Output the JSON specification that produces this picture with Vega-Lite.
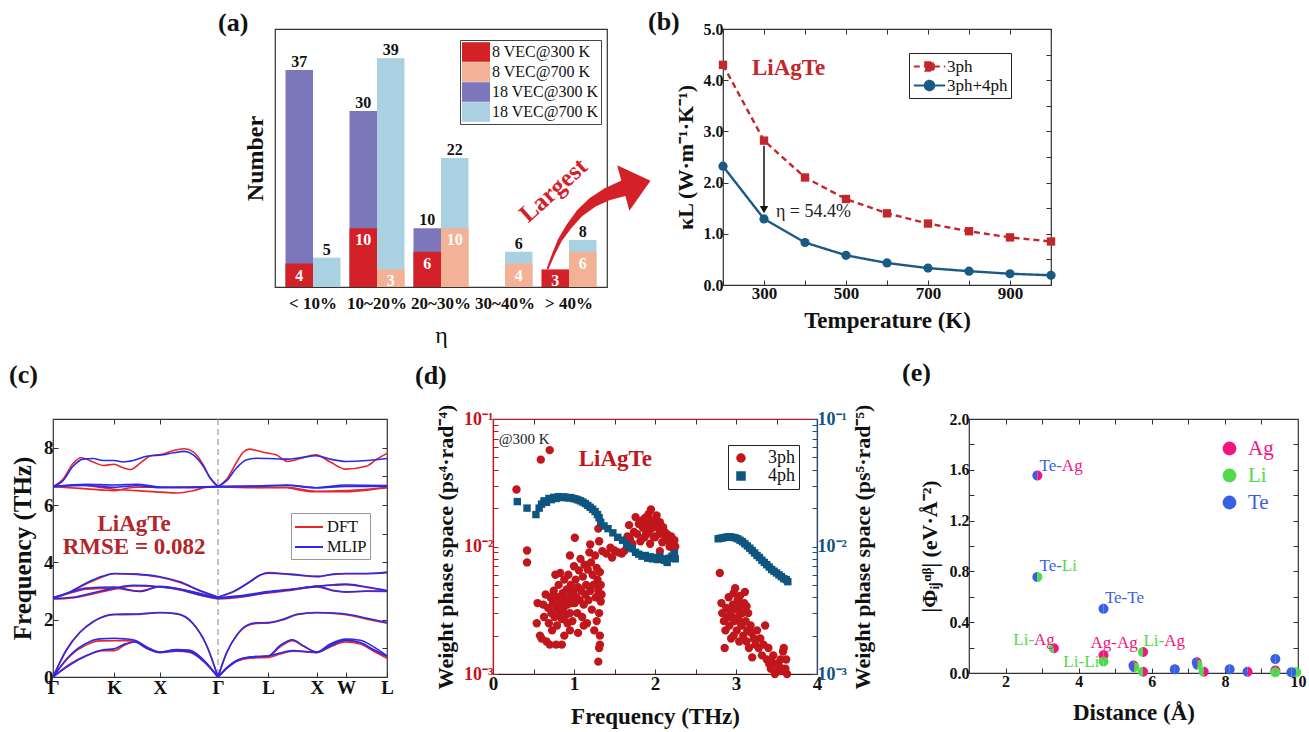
{
"$schema":"https://vega.github.io/schema/vega-lite/v6.json",
"background":"white",
"padding":{"left":8,"top":8,"right":5,"bottom":5},
"spacing":11,
"resolve":{"scale":{"color":"independent","shape":"independent","strokeDash":"independent","size":"independent"}},
"config":{
 "font":"Liberation Serif",
 "view":{"stroke":"#333","strokeWidth":1.2},
 "scale":{"nice":false},
 "axis":{"domain":false,"grid":false,"labelFont":"Liberation Serif","titleFont":"Liberation Serif","labelFontWeight":"bold","titleFontWeight":"bold","labelColor":"#111","titleColor":"#111","tickColor":"#333","tickSize":-5,"labelFontSize":17,"titleFontSize":23,"labelPadding":5,"labelFlush":false,"labelOverlap":false},
 "legend":{"labelFont":"Liberation Serif","labelColor":"#111"},
 "title":{"font":"Liberation Serif","fontSize":26,"fontWeight":"bold","anchor":"start","frame":"group","color":"#111","baseline":"alphabetic","offset":0},
 "text":{"font":"Liberation Serif"}
},
"vconcat":[
{"hconcat":[
 {"width":169,"height":20,"data":{"values":[{"z":1}]},"mark":{"type":"point","opacity":0},"encoding":{},"view":{"stroke":null}},
 {"width":332,"height":258,
  "title":{"text":"(a)","dx":-57,"dy":11},
  "layer":[
   {"data":{"values":[
    {"eta":"< 10%","T":"300 K","vec":"18","series":"18 VEC@300 K","n":37},
    {"eta":"< 10%","T":"700 K","vec":"18","series":"18 VEC@700 K","n":5},
    {"eta":"10~20%","T":"300 K","vec":"18","series":"18 VEC@300 K","n":30},
    {"eta":"10~20%","T":"700 K","vec":"18","series":"18 VEC@700 K","n":39},
    {"eta":"20~30%","T":"300 K","vec":"18","series":"18 VEC@300 K","n":10},
    {"eta":"20~30%","T":"700 K","vec":"18","series":"18 VEC@700 K","n":22},
    {"eta":"30~40%","T":"300 K","vec":"18","series":"18 VEC@300 K","n":0},
    {"eta":"30~40%","T":"700 K","vec":"18","series":"18 VEC@700 K","n":6},
    {"eta":"> 40%","T":"300 K","vec":"18","series":"18 VEC@300 K","n":0},
    {"eta":"> 40%","T":"700 K","vec":"18","series":"18 VEC@700 K","n":8},
    {"eta":"< 10%","T":"300 K","vec":"8","series":"8 VEC@300 K","n":4},
    {"eta":"< 10%","T":"700 K","vec":"8","series":"8 VEC@700 K","n":0},
    {"eta":"10~20%","T":"300 K","vec":"8","series":"8 VEC@300 K","n":10},
    {"eta":"10~20%","T":"700 K","vec":"8","series":"8 VEC@700 K","n":3},
    {"eta":"20~30%","T":"300 K","vec":"8","series":"8 VEC@300 K","n":6},
    {"eta":"20~30%","T":"700 K","vec":"8","series":"8 VEC@700 K","n":10},
    {"eta":"30~40%","T":"300 K","vec":"8","series":"8 VEC@300 K","n":0},
    {"eta":"30~40%","T":"700 K","vec":"8","series":"8 VEC@700 K","n":4},
    {"eta":"> 40%","T":"300 K","vec":"8","series":"8 VEC@300 K","n":3},
    {"eta":"> 40%","T":"700 K","vec":"8","series":"8 VEC@700 K","n":6}
   ]},
   "encoding":{
    "x":{"field":"eta","type":"nominal","sort":["< 10%","10~20%","20~30%","30~40%","> 40%"],"scale":{"paddingInner":0.14,"paddingOuter":0.164},"axis":{"title":"η","labelAngle":0,"ticks":false,"labelPadding":8,"titlePadding":12,"titleFontWeight":"normal","titleFontSize":24,"labelFontSize":17}},
    "xOffset":{"field":"T","type":"nominal","sort":["300 K","700 K"]},
    "y":{"field":"n","type":"quantitative","scale":{"domain":[0,44]},"axis":{"title":"Number","labels":false,"ticks":false,"titlePadding":8,"titleFontSize":24}}
   },
   "layer":[
    {"mark":{"type":"bar","opacity":1},
     "encoding":{"y":{"field":"n","type":"quantitative","stack":null},
      "color":{"field":"series","type":"nominal","scale":{"domain":["8 VEC@300 K","8 VEC@700 K","18 VEC@300 K","18 VEC@700 K"],"range":["#d42027","#f3b196","#7b77ba","#a9d1e1"]},
       "legend":{"title":null,"orient":"none","legendX":185,"legendY":11,"strokeColor":"#444","padding":2,"symbolOffset":4,"symbolType":"M-1.4,-0.98H1.4V0.98H-1.4Z","symbolSize":400,"symbolStrokeWidth":0,"symbolOpacity":1,"labelFontSize":16,"labelOffset":6,"rowPadding":0}}}},
    {"transform":[{"filter":"datum.vec == '18' && datum.n > 0"}],
     "mark":{"type":"text","dy":-3,"baseline":"alphabetic","fontWeight":"bold","fontSize":16,"color":"#111"},
     "encoding":{"text":{"field":"n","type":"quantitative"}}},
    {"transform":[{"filter":"datum.vec == '8' && datum.n > 0"}],
     "mark":{"type":"text","dy":4,"baseline":"top","fontWeight":"bold","fontSize":16,"color":"white"},
     "encoding":{"text":{"field":"n","type":"quantitative"}}}
   ]},
   {"data":{"values":[{"gx":3.61,"n":3.2},{"gx":3.69,"n":5.5},{"gx":3.79,"n":8.0},{"gx":3.93,"n":10.4},{"gx":4.09,"n":12.6},{"gx":4.29,"n":14.5},{"gx":4.5,"n":15.8},{"gx":4.76,"n":16.9}]},
    "mark":{"type":"trail","color":"#d42027"},
    "encoding":{"x":{"field":"gx","type":"quantitative","scale":{"domain":[-0.5,4.5]},"axis":null},
     "y":{"field":"n","type":"quantitative","scale":{"domain":[0,44]},"axis":{"title":"Number","labels":false,"ticks":false,"titlePadding":8,"titleFontSize":24}},
     "size":{"field":"gx","type":"quantitative","scale":{"domain":[3.61,4.76],"range":[2,16]},"legend":null}}},
   {"data":{"values":[{"gx":4.95,"n":17.5}]},
    "mark":{"type":"point","shape":"M0.6,0L-0.6,-1L-0.6,1Z","size":2209,"angle":345,"filled":true,"opacity":1,"color":"#d42027"},
    "encoding":{"x":{"field":"gx","type":"quantitative","scale":{"domain":[-0.5,4.5]},"axis":null},
     "y":{"field":"n","type":"quantitative","scale":{"domain":[0,44]},"axis":{"title":"Number","labels":false,"ticks":false,"titlePadding":8,"titleFontSize":24}}}},
   {"data":{"values":[{"gx":3.69,"n":16.5,"label":"Largest"}]},
    "mark":{"type":"text","angle":318,"fontSize":25,"fontWeight":"bold","color":"#d42027"},
    "encoding":{"x":{"field":"gx","type":"quantitative","scale":{"domain":[-0.5,4.5]},"axis":null},
     "y":{"field":"n","type":"quantitative","scale":{"domain":[0,44]},"axis":{"title":"Number","labels":false,"ticks":false,"titlePadding":8,"titleFontSize":24}},
     "text":{"field":"label"}}}
  ],
  "resolve":{"scale":{"x":"independent"}}
 },
 {"width":328,"height":256,
  "title":{"text":"(b)","dx":-75,"dy":18},
  "layer":[
  {"layer":[
   {"data":{"values":[
     {"T":200,"k":4.3,"s":"3ph"},{"T":300,"k":2.82,"s":"3ph"},{"T":400,"k":2.1,"s":"3ph"},{"T":500,"k":1.68,"s":"3ph"},{"T":600,"k":1.4,"s":"3ph"},{"T":700,"k":1.2,"s":"3ph"},{"T":800,"k":1.05,"s":"3ph"},{"T":900,"k":0.93,"s":"3ph"},{"T":1000,"k":0.85,"s":"3ph"},
     {"T":200,"k":2.32,"s":"3ph+4ph"},{"T":300,"k":1.29,"s":"3ph+4ph"},{"T":400,"k":0.83,"s":"3ph+4ph"},{"T":500,"k":0.58,"s":"3ph+4ph"},{"T":600,"k":0.43,"s":"3ph+4ph"},{"T":700,"k":0.33,"s":"3ph+4ph"},{"T":800,"k":0.27,"s":"3ph+4ph"},{"T":900,"k":0.22,"s":"3ph+4ph"},{"T":1000,"k":0.19,"s":"3ph+4ph"}
    ]},
    "encoding":{
     "x":{"field":"T","type":"quantitative","scale":{"domain":[200,1000]},"axis":{"title":"Temperature (K)","values":[200,300,400,500,600,700,800,900,1000],"labelExpr":"(datum.value == 300 || datum.value == 500 || datum.value == 700 || datum.value == 900) ? datum.label : ''","labelFontSize":17,"titleFontSize":23,"titlePadding":8}},
     "y":{"field":"k","type":"quantitative","scale":{"domain":[0,5]},"axis":{"title":"κL (W·m⁻¹·K⁻¹)","values":[0,0.5,1,1.5,2,2.5,3,3.5,4,4.5,5],"labelExpr":"datum.value % 1 == 0 ? format(datum.value, '.1f') : ''","labelFontSize":16,"titleFontSize":22,"titlePadding":6}}
    },
    "layer":[
     {"mark":{"type":"line","strokeWidth":2.4},
      "encoding":{
       "color":{"field":"s","type":"nominal","scale":{"domain":["3ph","3ph+4ph"],"range":["#c1272d","#1b5a85"]},
        "legend":{"title":null,"orient":"none","legendX":186,"legendY":24,"strokeColor":"#222","padding":3,"symbolOffset":7,"symbolSize":361,"symbolStrokeWidth":2,"labelFontSize":17,"labelOffset":7,"rowPadding":0,
         "encode":{"symbols":{"update":{
          "shape":{"signal":"datum.value === '3ph' ? 'M-1.65,0H1.65M-0.45,-0.45H0.45V0.45H-0.45Z' : 'M-1.65,0H1.65M0.5,0A0.5,0.5,0,1,1,-0.5,0A0.5,0.5,0,1,1,0.5,0Z'"},
          "fill":{"signal":"datum.value === '3ph' ? '#c1272d' : '#1b5a85'"},
          "stroke":{"signal":"datum.value === '3ph' ? '#c1272d' : '#1b5a85'"},
          "strokeDash":{"signal":"datum.value === '3ph' ? [4,3] : [1,0]"}}}}}},
       "strokeDash":{"field":"s","type":"nominal","scale":{"domain":["3ph","3ph+4ph"],"range":[[6,4],[1,0]]},"legend":null}}},
     {"transform":[{"filter":"datum.s == '3ph'"}],
      "mark":{"type":"point","filled":true,"opacity":1,"size":70,"shape":"square","color":"#c1272d"}},
     {"transform":[{"filter":"datum.s == '3ph+4ph'"}],
      "mark":{"type":"point","filled":true,"opacity":1,"size":85,"shape":"circle","color":"#1b5a85"}}
    ]},
   {"data":{"values":[{"T":300,"k":2.72,"k2":1.5}]},
    "mark":{"type":"rule","color":"#111","strokeWidth":1.5},
    "encoding":{"x":{"field":"T","type":"quantitative"},"y":{"field":"k","type":"quantitative"},"y2":{"field":"k2"}}},
   {"data":{"values":[{"T":300,"k":1.47}]},
    "mark":{"type":"point","shape":"triangle-down","filled":true,"color":"#111","size":70,"opacity":1},
    "encoding":{"x":{"field":"T","type":"quantitative"},"y":{"field":"k","type":"quantitative"}}},
   {"data":{"values":[{"T":329,"k":1.43,"label":"η = 54.4%"}]},
    "mark":{"type":"text","align":"left","baseline":"middle","fontSize":18,"color":"#222"},
    "encoding":{"x":{"field":"T","type":"quantitative"},"y":{"field":"k","type":"quantitative"},"text":{"field":"label"}}},
   {"data":{"values":[{"T":360,"k":4.24,"label":"LiAgTe"}]},
    "mark":{"type":"text","baseline":"middle","fontSize":23,"fontWeight":"bold","color":"#c1272d"},
    "encoding":{"x":{"field":"T","type":"quantitative"},"y":{"field":"k","type":"quantitative"},"text":{"field":"label"}}}
  ]},
  {"data":{"values":[{"T":200,"k":0}]},
   "mark":{"type":"point","opacity":0},
   "encoding":{"x":{"field":"T","type":"quantitative","axis":{"orient":"top","labels":false,"title":null,"values":[200,300,400,500,600,700,800,900,1000]}},
    "y":{"field":"k","type":"quantitative","axis":{"orient":"right","labels":false,"title":null,"values":[0,0.5,1,1.5,2,2.5,3,3.5,4,4.5,5]}}}}
  ],
  "resolve":{"axis":{"x":"independent","y":"independent"}}
 }
],"spacing":-5,"resolve":{"scale":{"color":"independent","shape":"independent","strokeDash":"independent","size":"independent"}}},
{"hconcat":[
 {"width":334,"height":258,
  "title":{"text":"(c)","dx":-44,"dy":-27},
  "layer":[
  {"layer":[
   {"data":{"values":[{"k":0.494}]},
    "mark":{"type":"rule","color":"#888","strokeDash":[6,4],"strokeWidth":1},
    "encoding":{"x":{"field":"k","type":"quantitative","scale":{"domain":[0,1]}}}},
   {"data":{"values":[
{"m":"DFT","b":"1L","k":0,"f":0},{"m":"DFT","b":"1L","k":0.05,"f":0.45},{"m":"DFT","b":"1L","k":0.1,"f":0.75},{"m":"DFT","b":"1L","k":0.15,"f":0.92},{"m":"DFT","b":"1L","k":0.183,"f":0.92},{"m":"DFT","b":"1L","k":0.215,"f":1.12},{"m":"DFT","b":"1L","k":0.245,"f":1.22},{"m":"DFT","b":"1L","k":0.28,"f":1.0},{"m":"DFT","b":"1L","k":0.32,"f":0.85},{"m":"DFT","b":"1L","k":0.37,"f":0.9},{"m":"DFT","b":"1L","k":0.41,"f":0.86},{"m":"DFT","b":"1L","k":0.45,"f":0.55},{"m":"DFT","b":"1L","k":0.494,"f":0},
{"m":"DFT","b":"1R","k":0.494,"f":0},{"m":"DFT","b":"1R","k":0.52,"f":0.3},{"m":"DFT","b":"1R","k":0.55,"f":0.55},{"m":"DFT","b":"1R","k":0.59,"f":0.66},{"m":"DFT","b":"1R","k":0.644,"f":0.68},{"m":"DFT","b":"1R","k":0.68,"f":0.8},{"m":"DFT","b":"1R","k":0.717,"f":0.9},{"m":"DFT","b":"1R","k":0.75,"f":0.88},{"m":"DFT","b":"1R","k":0.79,"f":0.85},{"m":"DFT","b":"1R","k":0.83,"f":1.05},{"m":"DFT","b":"1R","k":0.877,"f":1.22},{"m":"DFT","b":"1R","k":0.92,"f":1.15},{"m":"DFT","b":"1R","k":0.96,"f":0.9},{"m":"DFT","b":"1R","k":1.0,"f":0.65},
{"m":"DFT","b":"2L","k":0,"f":0},{"m":"DFT","b":"2L","k":0.05,"f":0.72},{"m":"DFT","b":"2L","k":0.1,"f":1.12},{"m":"DFT","b":"2L","k":0.14,"f":1.26},{"m":"DFT","b":"2L","k":0.183,"f":1.27},{"m":"DFT","b":"2L","k":0.215,"f":1.27},{"m":"DFT","b":"2L","k":0.245,"f":1.25},{"m":"DFT","b":"2L","k":0.28,"f":1.05},{"m":"DFT","b":"2L","k":0.32,"f":0.87},{"m":"DFT","b":"2L","k":0.37,"f":0.95},{"m":"DFT","b":"2L","k":0.41,"f":0.92},{"m":"DFT","b":"2L","k":0.45,"f":0.6},{"m":"DFT","b":"2L","k":0.494,"f":0},
{"m":"DFT","b":"2R","k":0.494,"f":0},{"m":"DFT","b":"2R","k":0.52,"f":0.32},{"m":"DFT","b":"2R","k":0.55,"f":0.57},{"m":"DFT","b":"2R","k":0.59,"f":0.68},{"m":"DFT","b":"2R","k":0.644,"f":0.72},{"m":"DFT","b":"2R","k":0.68,"f":1.05},{"m":"DFT","b":"2R","k":0.717,"f":1.27},{"m":"DFT","b":"2R","k":0.75,"f":1.08},{"m":"DFT","b":"2R","k":0.79,"f":0.87},{"m":"DFT","b":"2R","k":0.83,"f":1.12},{"m":"DFT","b":"2R","k":0.877,"f":1.26},{"m":"DFT","b":"2R","k":0.92,"f":1.18},{"m":"DFT","b":"2R","k":0.96,"f":0.95},{"m":"DFT","b":"2R","k":1.0,"f":0.7},
{"m":"DFT","b":"3L","k":0,"f":0},{"m":"DFT","b":"3L","k":0.04,"f":0.95},{"m":"DFT","b":"3L","k":0.08,"f":1.55},{"m":"DFT","b":"3L","k":0.12,"f":1.92},{"m":"DFT","b":"3L","k":0.183,"f":2.17},{"m":"DFT","b":"3L","k":0.25,"f":2.18},{"m":"DFT","b":"3L","k":0.32,"f":2.24},{"m":"DFT","b":"3L","k":0.37,"f":2.2},{"m":"DFT","b":"3L","k":0.42,"f":1.85},{"m":"DFT","b":"3L","k":0.46,"f":1.1},{"m":"DFT","b":"3L","k":0.494,"f":0},
{"m":"DFT","b":"3R","k":0.494,"f":0},{"m":"DFT","b":"3R","k":0.52,"f":0.85},{"m":"DFT","b":"3R","k":0.55,"f":1.45},{"m":"DFT","b":"3R","k":0.58,"f":1.78},{"m":"DFT","b":"3R","k":0.61,"f":1.87},{"m":"DFT","b":"3R","k":0.644,"f":1.88},{"m":"DFT","b":"3R","k":0.69,"f":2.0},{"m":"DFT","b":"3R","k":0.73,"f":2.17},{"m":"DFT","b":"3R","k":0.79,"f":2.24},{"m":"DFT","b":"3R","k":0.84,"f":2.22},{"m":"DFT","b":"3R","k":0.877,"f":2.17},{"m":"DFT","b":"3R","k":0.94,"f":2.02},{"m":"DFT","b":"3R","k":1.0,"f":1.88},
{"m":"DFT","b":"4L","k":0,"f":2.72},{"m":"DFT","b":"4L","k":0.06,"f":2.76},{"m":"DFT","b":"4L","k":0.12,"f":2.9},{"m":"DFT","b":"4L","k":0.183,"f":3.06},{"m":"DFT","b":"4L","k":0.24,"f":3.18},{"m":"DFT","b":"4L","k":0.32,"f":3.14},{"m":"DFT","b":"4L","k":0.38,"f":3.04},{"m":"DFT","b":"4L","k":0.44,"f":2.85},{"m":"DFT","b":"4L","k":0.494,"f":2.72},
{"m":"DFT","b":"4R","k":0.494,"f":2.72},{"m":"DFT","b":"4R","k":0.55,"f":2.77},{"m":"DFT","b":"4R","k":0.644,"f":2.93},{"m":"DFT","b":"4R","k":0.717,"f":3.03},{"m":"DFT","b":"4R","k":0.79,"f":3.14},{"m":"DFT","b":"4R","k":0.84,"f":3.0},{"m":"DFT","b":"4R","k":0.877,"f":2.96},{"m":"DFT","b":"4R","k":0.94,"f":2.99},{"m":"DFT","b":"4R","k":1.0,"f":2.98},
{"m":"DFT","b":"5L","k":0,"f":2.75},{"m":"DFT","b":"5L","k":0.05,"f":2.92},{"m":"DFT","b":"5L","k":0.1,"f":3.06},{"m":"DFT","b":"5L","k":0.183,"f":3.1},{"m":"DFT","b":"5L","k":0.22,"f":3.04},{"m":"DFT","b":"5L","k":0.26,"f":3.0},{"m":"DFT","b":"5L","k":0.32,"f":3.15},{"m":"DFT","b":"5L","k":0.38,"f":3.06},{"m":"DFT","b":"5L","k":0.44,"f":2.9},{"m":"DFT","b":"5L","k":0.494,"f":2.75},
{"m":"DFT","b":"5R","k":0.494,"f":2.75},{"m":"DFT","b":"5R","k":0.55,"f":2.8},{"m":"DFT","b":"5R","k":0.644,"f":2.96},{"m":"DFT","b":"5R","k":0.717,"f":3.05},{"m":"DFT","b":"5R","k":0.79,"f":3.16},{"m":"DFT","b":"5R","k":0.84,"f":3.2},{"m":"DFT","b":"5R","k":0.877,"f":3.22},{"m":"DFT","b":"5R","k":0.94,"f":3.12},{"m":"DFT","b":"5R","k":1.0,"f":3.0},
{"m":"DFT","b":"6L","k":0,"f":2.75},{"m":"DFT","b":"6L","k":0.05,"f":2.95},{"m":"DFT","b":"6L","k":0.1,"f":3.25},{"m":"DFT","b":"6L","k":0.15,"f":3.5},{"m":"DFT","b":"6L","k":0.183,"f":3.6},{"m":"DFT","b":"6L","k":0.25,"f":3.58},{"m":"DFT","b":"6L","k":0.32,"f":3.48},{"m":"DFT","b":"6L","k":0.38,"f":3.3},{"m":"DFT","b":"6L","k":0.44,"f":3.0},{"m":"DFT","b":"6L","k":0.494,"f":2.78},
{"m":"DFT","b":"6R","k":0.494,"f":2.78},{"m":"DFT","b":"6R","k":0.54,"f":2.97},{"m":"DFT","b":"6R","k":0.59,"f":3.32},{"m":"DFT","b":"6R","k":0.62,"f":3.55},{"m":"DFT","b":"6R","k":0.644,"f":3.64},{"m":"DFT","b":"6R","k":0.717,"f":3.57},{"m":"DFT","b":"6R","k":0.79,"f":3.5},{"m":"DFT","b":"6R","k":0.84,"f":3.58},{"m":"DFT","b":"6R","k":0.877,"f":3.6},{"m":"DFT","b":"6R","k":0.94,"f":3.6},{"m":"DFT","b":"6R","k":1.0,"f":3.66},
{"m":"DFT","b":"7L","k":0,"f":6.64},{"m":"DFT","b":"7L","k":0.08,"f":6.7},{"m":"DFT","b":"7L","k":0.15,"f":6.6},{"m":"DFT","b":"7L","k":0.183,"f":6.55},{"m":"DFT","b":"7L","k":0.25,"f":6.5},{"m":"DFT","b":"7L","k":0.32,"f":6.45},{"m":"DFT","b":"7L","k":0.373,"f":6.42},{"m":"DFT","b":"7L","k":0.42,"f":6.5},{"m":"DFT","b":"7L","k":0.46,"f":6.62},{"m":"DFT","b":"7L","k":0.494,"f":6.64},
{"m":"DFT","b":"7R","k":0.494,"f":6.64},{"m":"DFT","b":"7R","k":0.6,"f":6.6},{"m":"DFT","b":"7R","k":0.7,"f":6.62},{"m":"DFT","b":"7R","k":0.787,"f":6.48},{"m":"DFT","b":"7R","k":0.877,"f":6.5},{"m":"DFT","b":"7R","k":0.94,"f":6.55},{"m":"DFT","b":"7R","k":1.0,"f":6.6},
{"m":"DFT","b":"8L","k":0,"f":6.64},{"m":"DFT","b":"8L","k":0.08,"f":6.58},{"m":"DFT","b":"8L","k":0.15,"f":6.52},{"m":"DFT","b":"8L","k":0.183,"f":6.5},{"m":"DFT","b":"8L","k":0.22,"f":6.58},{"m":"DFT","b":"8L","k":0.25,"f":6.62},{"m":"DFT","b":"8L","k":0.32,"f":6.62},{"m":"DFT","b":"8L","k":0.4,"f":6.63},{"m":"DFT","b":"8L","k":0.494,"f":6.64},
{"m":"DFT","b":"8R","k":0.494,"f":6.64},{"m":"DFT","b":"8R","k":0.6,"f":6.62},{"m":"DFT","b":"8R","k":0.7,"f":6.6},{"m":"DFT","b":"8R","k":0.75,"f":6.5},{"m":"DFT","b":"8R","k":0.787,"f":6.46},{"m":"DFT","b":"8R","k":0.877,"f":6.46},{"m":"DFT","b":"8R","k":0.94,"f":6.52},{"m":"DFT","b":"8R","k":1.0,"f":6.62},
{"m":"DFT","b":"9L","k":0,"f":6.64},{"m":"DFT","b":"9L","k":0.03,"f":6.9},{"m":"DFT","b":"9L","k":0.06,"f":7.45},{"m":"DFT","b":"9L","k":0.084,"f":7.65},{"m":"DFT","b":"9L","k":0.12,"f":7.5},{"m":"DFT","b":"9L","k":0.15,"f":7.38},{"m":"DFT","b":"9L","k":0.183,"f":7.42},{"m":"DFT","b":"9L","k":0.21,"f":7.3},{"m":"DFT","b":"9L","k":0.233,"f":7.24},{"m":"DFT","b":"9L","k":0.26,"f":7.45},{"m":"DFT","b":"9L","k":0.293,"f":7.72},{"m":"DFT","b":"9L","k":0.33,"f":7.78},{"m":"DFT","b":"9L","k":0.36,"f":7.9},{"m":"DFT","b":"9L","k":0.393,"f":7.96},{"m":"DFT","b":"9L","k":0.42,"f":7.85},{"m":"DFT","b":"9L","k":0.45,"f":7.4},{"m":"DFT","b":"9L","k":0.47,"f":6.95},{"m":"DFT","b":"9L","k":0.494,"f":6.64},
{"m":"DFT","b":"9R","k":0.494,"f":6.64},{"m":"DFT","b":"9R","k":0.52,"f":6.9},{"m":"DFT","b":"9R","k":0.55,"f":7.5},{"m":"DFT","b":"9R","k":0.57,"f":7.85},{"m":"DFT","b":"9R","k":0.588,"f":7.95},{"m":"DFT","b":"9R","k":0.61,"f":7.9},{"m":"DFT","b":"9R","k":0.638,"f":7.82},{"m":"DFT","b":"9R","k":0.668,"f":7.75},{"m":"DFT","b":"9R","k":0.702,"f":7.52},{"m":"DFT","b":"9R","k":0.74,"f":7.62},{"m":"DFT","b":"9R","k":0.787,"f":7.75},{"m":"DFT","b":"9R","k":0.83,"f":7.5},{"m":"DFT","b":"9R","k":0.877,"f":7.25},{"m":"DFT","b":"9R","k":0.937,"f":7.35},{"m":"DFT","b":"9R","k":0.97,"f":7.6},{"m":"DFT","b":"9R","k":1.0,"f":7.8},
{"m":"MLIP","b":"1L","k":0,"f":0},{"m":"MLIP","b":"1L","k":0.05,"f":0.42},{"m":"MLIP","b":"1L","k":0.1,"f":0.74},{"m":"MLIP","b":"1L","k":0.15,"f":0.95},{"m":"MLIP","b":"1L","k":0.183,"f":0.98},{"m":"MLIP","b":"1L","k":0.215,"f":1.15},{"m":"MLIP","b":"1L","k":0.245,"f":1.22},{"m":"MLIP","b":"1L","k":0.28,"f":1.0},{"m":"MLIP","b":"1L","k":0.32,"f":0.86},{"m":"MLIP","b":"1L","k":0.37,"f":0.92},{"m":"MLIP","b":"1L","k":0.41,"f":0.88},{"m":"MLIP","b":"1L","k":0.45,"f":0.56},{"m":"MLIP","b":"1L","k":0.494,"f":0},
{"m":"MLIP","b":"1R","k":0.494,"f":0},{"m":"MLIP","b":"1R","k":0.52,"f":0.3},{"m":"MLIP","b":"1R","k":0.55,"f":0.56},{"m":"MLIP","b":"1R","k":0.59,"f":0.7},{"m":"MLIP","b":"1R","k":0.644,"f":0.73},{"m":"MLIP","b":"1R","k":0.68,"f":0.84},{"m":"MLIP","b":"1R","k":0.717,"f":0.92},{"m":"MLIP","b":"1R","k":0.75,"f":0.9},{"m":"MLIP","b":"1R","k":0.79,"f":0.86},{"m":"MLIP","b":"1R","k":0.83,"f":1.08},{"m":"MLIP","b":"1R","k":0.877,"f":1.28},{"m":"MLIP","b":"1R","k":0.92,"f":1.2},{"m":"MLIP","b":"1R","k":0.96,"f":0.95},{"m":"MLIP","b":"1R","k":1.0,"f":0.72},
{"m":"MLIP","b":"2L","k":0,"f":0},{"m":"MLIP","b":"2L","k":0.05,"f":0.75},{"m":"MLIP","b":"2L","k":0.1,"f":1.18},{"m":"MLIP","b":"2L","k":0.14,"f":1.33},{"m":"MLIP","b":"2L","k":0.183,"f":1.35},{"m":"MLIP","b":"2L","k":0.215,"f":1.33},{"m":"MLIP","b":"2L","k":0.245,"f":1.28},{"m":"MLIP","b":"2L","k":0.28,"f":1.05},{"m":"MLIP","b":"2L","k":0.32,"f":0.87},{"m":"MLIP","b":"2L","k":0.37,"f":0.96},{"m":"MLIP","b":"2L","k":0.41,"f":0.93},{"m":"MLIP","b":"2L","k":0.45,"f":0.6},{"m":"MLIP","b":"2L","k":0.494,"f":0},
{"m":"MLIP","b":"2R","k":0.494,"f":0},{"m":"MLIP","b":"2R","k":0.52,"f":0.32},{"m":"MLIP","b":"2R","k":0.55,"f":0.58},{"m":"MLIP","b":"2R","k":0.59,"f":0.7},{"m":"MLIP","b":"2R","k":0.644,"f":0.73},{"m":"MLIP","b":"2R","k":0.68,"f":1.1},{"m":"MLIP","b":"2R","k":0.717,"f":1.3},{"m":"MLIP","b":"2R","k":0.75,"f":1.08},{"m":"MLIP","b":"2R","k":0.79,"f":0.87},{"m":"MLIP","b":"2R","k":0.83,"f":1.15},{"m":"MLIP","b":"2R","k":0.877,"f":1.32},{"m":"MLIP","b":"2R","k":0.92,"f":1.28},{"m":"MLIP","b":"2R","k":0.96,"f":1.05},{"m":"MLIP","b":"2R","k":1.0,"f":0.74},
{"m":"MLIP","b":"3L","k":0,"f":0},{"m":"MLIP","b":"3L","k":0.04,"f":0.93},{"m":"MLIP","b":"3L","k":0.08,"f":1.55},{"m":"MLIP","b":"3L","k":0.12,"f":1.93},{"m":"MLIP","b":"3L","k":0.183,"f":2.19},{"m":"MLIP","b":"3L","k":0.25,"f":2.2},{"m":"MLIP","b":"3L","k":0.32,"f":2.25},{"m":"MLIP","b":"3L","k":0.37,"f":2.21},{"m":"MLIP","b":"3L","k":0.42,"f":1.86},{"m":"MLIP","b":"3L","k":0.46,"f":1.1},{"m":"MLIP","b":"3L","k":0.494,"f":0},
{"m":"MLIP","b":"3R","k":0.494,"f":0},{"m":"MLIP","b":"3R","k":0.52,"f":0.85},{"m":"MLIP","b":"3R","k":0.55,"f":1.46},{"m":"MLIP","b":"3R","k":0.58,"f":1.8},{"m":"MLIP","b":"3R","k":0.61,"f":1.89},{"m":"MLIP","b":"3R","k":0.644,"f":1.9},{"m":"MLIP","b":"3R","k":0.69,"f":2.02},{"m":"MLIP","b":"3R","k":0.73,"f":2.19},{"m":"MLIP","b":"3R","k":0.79,"f":2.25},{"m":"MLIP","b":"3R","k":0.84,"f":2.23},{"m":"MLIP","b":"3R","k":0.877,"f":2.2},{"m":"MLIP","b":"3R","k":0.94,"f":2.05},{"m":"MLIP","b":"3R","k":1.0,"f":1.9},
{"m":"MLIP","b":"4L","k":0,"f":2.74},{"m":"MLIP","b":"4L","k":0.06,"f":2.78},{"m":"MLIP","b":"4L","k":0.12,"f":2.94},{"m":"MLIP","b":"4L","k":0.183,"f":3.1},{"m":"MLIP","b":"4L","k":0.24,"f":3.2},{"m":"MLIP","b":"4L","k":0.32,"f":3.15},{"m":"MLIP","b":"4L","k":0.38,"f":3.05},{"m":"MLIP","b":"4L","k":0.44,"f":2.86},{"m":"MLIP","b":"4L","k":0.494,"f":2.74},
{"m":"MLIP","b":"4R","k":0.494,"f":2.74},{"m":"MLIP","b":"4R","k":0.55,"f":2.79},{"m":"MLIP","b":"4R","k":0.644,"f":2.95},{"m":"MLIP","b":"4R","k":0.717,"f":3.05},{"m":"MLIP","b":"4R","k":0.79,"f":3.16},{"m":"MLIP","b":"4R","k":0.84,"f":3.02},{"m":"MLIP","b":"4R","k":0.877,"f":2.97},{"m":"MLIP","b":"4R","k":0.94,"f":3.0},{"m":"MLIP","b":"4R","k":1.0,"f":3.0},
{"m":"MLIP","b":"5L","k":0,"f":2.76},{"m":"MLIP","b":"5L","k":0.05,"f":2.95},{"m":"MLIP","b":"5L","k":0.1,"f":3.1},{"m":"MLIP","b":"5L","k":0.183,"f":3.14},{"m":"MLIP","b":"5L","k":0.22,"f":3.06},{"m":"MLIP","b":"5L","k":0.26,"f":2.98},{"m":"MLIP","b":"5L","k":0.32,"f":3.16},{"m":"MLIP","b":"5L","k":0.38,"f":3.07},{"m":"MLIP","b":"5L","k":0.44,"f":2.91},{"m":"MLIP","b":"5L","k":0.494,"f":2.76},
{"m":"MLIP","b":"5R","k":0.494,"f":2.76},{"m":"MLIP","b":"5R","k":0.55,"f":2.82},{"m":"MLIP","b":"5R","k":0.644,"f":2.98},{"m":"MLIP","b":"5R","k":0.717,"f":3.07},{"m":"MLIP","b":"5R","k":0.79,"f":3.17},{"m":"MLIP","b":"5R","k":0.84,"f":3.22},{"m":"MLIP","b":"5R","k":0.877,"f":3.24},{"m":"MLIP","b":"5R","k":0.94,"f":3.14},{"m":"MLIP","b":"5R","k":1.0,"f":3.02},
{"m":"MLIP","b":"6L","k":0,"f":2.77},{"m":"MLIP","b":"6L","k":0.05,"f":2.97},{"m":"MLIP","b":"6L","k":0.1,"f":3.28},{"m":"MLIP","b":"6L","k":0.15,"f":3.52},{"m":"MLIP","b":"6L","k":0.183,"f":3.61},{"m":"MLIP","b":"6L","k":0.25,"f":3.59},{"m":"MLIP","b":"6L","k":0.32,"f":3.5},{"m":"MLIP","b":"6L","k":0.38,"f":3.32},{"m":"MLIP","b":"6L","k":0.44,"f":3.02},{"m":"MLIP","b":"6L","k":0.494,"f":2.79},
{"m":"MLIP","b":"6R","k":0.494,"f":2.79},{"m":"MLIP","b":"6R","k":0.54,"f":2.98},{"m":"MLIP","b":"6R","k":0.59,"f":3.33},{"m":"MLIP","b":"6R","k":0.62,"f":3.56},{"m":"MLIP","b":"6R","k":0.644,"f":3.62},{"m":"MLIP","b":"6R","k":0.717,"f":3.58},{"m":"MLIP","b":"6R","k":0.79,"f":3.51},{"m":"MLIP","b":"6R","k":0.84,"f":3.59},{"m":"MLIP","b":"6R","k":0.877,"f":3.61},{"m":"MLIP","b":"6R","k":0.94,"f":3.61},{"m":"MLIP","b":"6R","k":1.0,"f":3.64},
{"m":"MLIP","b":"7L","k":0,"f":6.64},{"m":"MLIP","b":"7L","k":0.1,"f":6.72},{"m":"MLIP","b":"7L","k":0.183,"f":6.7},{"m":"MLIP","b":"7L","k":0.25,"f":6.72},{"m":"MLIP","b":"7L","k":0.32,"f":6.63},{"m":"MLIP","b":"7L","k":0.4,"f":6.62},{"m":"MLIP","b":"7L","k":0.494,"f":6.64},
{"m":"MLIP","b":"7R","k":0.494,"f":6.64},{"m":"MLIP","b":"7R","k":0.6,"f":6.66},{"m":"MLIP","b":"7R","k":0.7,"f":6.7},{"m":"MLIP","b":"7R","k":0.787,"f":6.6},{"m":"MLIP","b":"7R","k":0.877,"f":6.7},{"m":"MLIP","b":"7R","k":1.0,"f":6.68},
{"m":"MLIP","b":"8L","k":0,"f":6.64},{"m":"MLIP","b":"8L","k":0.1,"f":6.68},{"m":"MLIP","b":"8L","k":0.183,"f":6.62},{"m":"MLIP","b":"8L","k":0.25,"f":6.67},{"m":"MLIP","b":"8L","k":0.32,"f":6.6},{"m":"MLIP","b":"8L","k":0.4,"f":6.6},{"m":"MLIP","b":"8L","k":0.494,"f":6.64},
{"m":"MLIP","b":"8R","k":0.494,"f":6.64},{"m":"MLIP","b":"8R","k":0.6,"f":6.65},{"m":"MLIP","b":"8R","k":0.7,"f":6.68},{"m":"MLIP","b":"8R","k":0.787,"f":6.6},{"m":"MLIP","b":"8R","k":0.877,"f":6.65},{"m":"MLIP","b":"8R","k":1.0,"f":6.65},
{"m":"MLIP","b":"9L","k":0,"f":6.64},{"m":"MLIP","b":"9L","k":0.03,"f":6.85},{"m":"MLIP","b":"9L","k":0.06,"f":7.35},{"m":"MLIP","b":"9L","k":0.09,"f":7.6},{"m":"MLIP","b":"9L","k":0.12,"f":7.62},{"m":"MLIP","b":"9L","k":0.15,"f":7.55},{"m":"MLIP","b":"9L","k":0.183,"f":7.55},{"m":"MLIP","b":"9L","k":0.21,"f":7.5},{"m":"MLIP","b":"9L","k":0.24,"f":7.55},{"m":"MLIP","b":"9L","k":0.28,"f":7.7},{"m":"MLIP","b":"9L","k":0.33,"f":7.75},{"m":"MLIP","b":"9L","k":0.36,"f":7.82},{"m":"MLIP","b":"9L","k":0.393,"f":7.87},{"m":"MLIP","b":"9L","k":0.42,"f":7.75},{"m":"MLIP","b":"9L","k":0.45,"f":7.35},{"m":"MLIP","b":"9L","k":0.47,"f":6.95},{"m":"MLIP","b":"9L","k":0.494,"f":6.64},
{"m":"MLIP","b":"9R","k":0.494,"f":6.64},{"m":"MLIP","b":"9R","k":0.52,"f":6.85},{"m":"MLIP","b":"9R","k":0.55,"f":7.3},{"m":"MLIP","b":"9R","k":0.58,"f":7.58},{"m":"MLIP","b":"9R","k":0.61,"f":7.63},{"m":"MLIP","b":"9R","k":0.644,"f":7.62},{"m":"MLIP","b":"9R","k":0.702,"f":7.6},{"m":"MLIP","b":"9R","k":0.74,"f":7.65},{"m":"MLIP","b":"9R","k":0.787,"f":7.72},{"m":"MLIP","b":"9R","k":0.83,"f":7.6},{"m":"MLIP","b":"9R","k":0.877,"f":7.52},{"m":"MLIP","b":"9R","k":0.94,"f":7.55},{"m":"MLIP","b":"9R","k":1.0,"f":7.62}
    ]},
    "mark":{"type":"line","strokeWidth":1.6,"interpolate":"monotone"},
    "encoding":{
     "x":{"field":"k","type":"quantitative","scale":{"domain":[0,1]},"axis":{"title":null,"values":[0,0.183,0.32,0.494,0.644,0.79,0.877,1],"labelExpr":"datum.value == 0 || datum.value == 0.494 ? 'Γ' : datum.value == 0.183 ? 'K' : (datum.value == 0.32 || datum.value == 0.79) ? 'X' : (datum.value == 0.644 || datum.value == 1) ? 'L' : 'W'","labelFontSize":19,"labelPadding":6}},
     "y":{"field":"f","type":"quantitative","scale":{"domain":[0,8.8]},"axis":{"title":"Frequency (THz)","values":[0,1,2,3,4,5,6,7,8],"labelExpr":"datum.value % 2 == 0 ? datum.label : ''","labelFontSize":19,"titleFontSize":25,"titlePadding":8}},
     "color":{"field":"m","type":"nominal","scale":{"domain":["DFT","MLIP"],"range":["#e8262a","#2a2aea"]},
      "legend":{"title":null,"orient":"none","legendX":238,"legendY":94,"strokeColor":"#999","padding":3,"symbolType":"M-1.4,0H1.4","symbolSize":400,"symbolOffset":4,"symbolStrokeWidth":2,"labelFontSize":16.5,"labelFontWeight":"normal","rowPadding":0,"labelOffset":7}},
     "detail":{"field":"b"}}},
   {"data":{"values":[{"k":0.243,"f":5.34,"label":"LiAgTe"},{"k":0.243,"f":4.52,"label":"RMSE = 0.082"}]},
    "mark":{"type":"text","baseline":"middle","fontSize":23,"fontWeight":"bold","color":"#b5242a"},
    "encoding":{"x":{"field":"k","type":"quantitative"},"y":{"field":"f","type":"quantitative"},"text":{"field":"label"}}}
  ]},
  {"data":{"values":[{"k":0,"f":0}]},
   "mark":{"type":"point","opacity":0},
   "encoding":{"x":{"field":"k","type":"quantitative","axis":{"orient":"top","labels":false,"title":null,"values":[0.183,0.32,0.644,0.79,0.877]}},
    "y":{"field":"f","type":"quantitative","axis":{"orient":"right","labels":false,"title":null,"values":[1,2,3,4,5,6,7,8]}}}}
  ],
  "resolve":{"axis":{"x":"independent","y":"independent"}}
 },
 {"hconcat":[
  {"width":324,"height":255,
   "title":{"text":"(d)","dx":-78,"dy":-11},
   "view":{"stroke":"#c0161c"},
   "layer":[
   {"layer":[
    {"encoding":{
      "x":{"field":"f","type":"quantitative","scale":{"domain":[0,4]},"axis":{"title":"Frequency (THz)","values":[0,0.5,1,1.5,2,2.5,3,3.5,4],"labelExpr":"datum.value % 1 == 0 ? format(datum.value, 'd') : ''","labelFontSize":19,"titleFontSize":23,"domain":true,"domainColor":"#222","domainWidth":1.2,"titlePadding":12}},
      "y":{"field":"v","type":"quantitative","scale":{"type":"log","domain":[0.001,0.1]},"axis":{"title":"Weight phase space (ps⁴·rad⁻⁴)","orient":"left","values":[0.001,0.002,0.003,0.004,0.005,0.006,0.007,0.008,0.009,0.01,0.02,0.03,0.04,0.05,0.06,0.07,0.08,0.09,0.1],"labelExpr":"datum.value == 0.001 ? '10⁻³' : datum.value == 0.01 ? '10⁻²' : datum.value == 0.1 ? '10⁻¹' : ''","labelColor":"#c0161c","tickColor":"#c0161c","domain":true,"domainColor":"#c0161c","domainWidth":1.2,"labelFontSize":18,"titleFontSize":22,"titlePadding":6}}},
     "layer":[
    {"data":{"values":[
{"f":0.29,"v":0.028},{"f":0.59,"v":0.048},{"f":0.70,"v":0.057},{"f":0.42,"v":0.0093},{"f":0.42,"v":0.0075},
{"f":0.54,"v":0.0025},{"f":0.55,"v":0.0036},{"f":0.58,"v":0.0020},{"f":0.60,"v":0.0019},{"f":0.62,"v":0.0035},{"f":0.63,"v":0.0028},{"f":0.65,"v":0.0042},{"f":0.66,"v":0.0018},{"f":0.68,"v":0.0033},{"f":0.69,"v":0.0025},{"f":0.70,"v":0.0017},{"f":0.71,"v":0.0040},{"f":0.72,"v":0.0030},{"f":0.73,"v":0.0022},{"f":0.74,"v":0.0036},{"f":0.75,"v":0.0045},{"f":0.76,"v":0.0028},{"f":0.77,"v":0.0060},{"f":0.78,"v":0.0033},{"f":0.79,"v":0.0024},{"f":0.80,"v":0.0040},{"f":0.81,"v":0.0050},{"f":0.82,"v":0.0030},{"f":0.83,"v":0.0062},{"f":0.84,"v":0.0036},{"f":0.85,"v":0.0017},{"f":0.85,"v":0.0027},{"f":0.86,"v":0.0043},{"f":0.87,"v":0.0033},{"f":0.88,"v":0.0055},{"f":0.89,"v":0.0038},{"f":0.90,"v":0.0029},{"f":0.91,"v":0.0046},{"f":0.92,"v":0.0035},{"f":0.93,"v":0.0060},{"f":0.94,"v":0.0040},{"f":0.95,"v":0.0085},{"f":0.95,"v":0.0030},{"f":0.96,"v":0.0050},{"f":0.97,"v":0.0036},{"f":0.98,"v":0.0026},{"f":0.99,"v":0.0044},{"f":1.00,"v":0.0070},{"f":1.01,"v":0.0117},{"f":1.01,"v":0.0036},{"f":1.02,"v":0.0055},{"f":1.03,"v":0.0040},{"f":1.04,"v":0.0030},{"f":1.05,"v":0.0048},{"f":1.06,"v":0.0065},{"f":1.07,"v":0.0038},{"f":1.08,"v":0.0080},{"f":1.09,"v":0.0045},{"f":1.10,"v":0.0028},{"f":1.11,"v":0.0058},{"f":1.12,"v":0.0035},{"f":1.13,"v":0.0072},{"f":1.14,"v":0.0042},{"f":1.15,"v":0.0050},{"f":1.16,"v":0.0025},{"f":1.17,"v":0.0066},{"f":1.18,"v":0.0038},{"f":1.19,"v":0.0090},{"f":1.20,"v":0.0104},{"f":1.20,"v":0.0045},{"f":1.21,"v":0.0075},{"f":1.22,"v":0.0032},{"f":1.23,"v":0.0060},{"f":1.24,"v":0.0050},{"f":1.25,"v":0.0022},{"f":1.26,"v":0.0085},{"f":1.27,"v":0.0040},{"f":1.28,"v":0.0068},{"f":1.29,"v":0.0055},{"f":1.30,"v":0.0138},{"f":1.30,"v":0.0045},{"f":1.31,"v":0.0030},{"f":1.31,"v":0.0110},{"f":1.32,"v":0.0063},{"f":1.32,"v":0.0020},{"f":1.32,"v":0.0017},{"f":1.33,"v":0.0050},{"f":1.33,"v":0.0037},{"f":1.34,"v":0.0042},{"f":1.30,"v":0.00125},{"f":1.31,"v":0.0016},{"f":1.28,"v":0.0026},{"f":1.12,"v":0.0024},{"f":1.05,"v":0.0021},{"f":0.95,"v":0.0022},{"f":0.88,"v":0.0020},{"f":0.78,"v":0.0017},{"f":0.92,"v":0.0025},
{"f":1.35,"v":0.0092},{"f":1.40,"v":0.0088},{"f":1.45,"v":0.0098},{"f":1.47,"v":0.0082},{"f":1.50,"v":0.0093},{"f":1.55,"v":0.0090},{"f":1.59,"v":0.0088},{"f":1.62,"v":0.0092},{"f":1.66,"v":0.0120},{"f":1.68,"v":0.0147},{"f":1.69,"v":0.0115},{"f":1.72,"v":0.0105},{"f":1.74,"v":0.0130},{"f":1.76,"v":0.0170},{"f":1.78,"v":0.0125},{"f":1.80,"v":0.0150},{"f":1.82,"v":0.0110},{"f":1.84,"v":0.0160},{"f":1.85,"v":0.0140},{"f":1.87,"v":0.0118},{"f":1.88,"v":0.0168},{"f":1.89,"v":0.0125},{"f":1.90,"v":0.0150},{"f":1.92,"v":0.0180},{"f":1.93,"v":0.0135},{"f":1.95,"v":0.0195},{"f":1.96,"v":0.0160},{"f":1.97,"v":0.0140},{"f":1.98,"v":0.0120},{"f":2.00,"v":0.0160},{"f":2.00,"v":0.0118},{"f":2.01,"v":0.0145},{"f":2.02,"v":0.0175},{"f":2.04,"v":0.0140},{"f":2.05,"v":0.0125},{"f":2.06,"v":0.0155},{"f":2.08,"v":0.0130},{"f":2.09,"v":0.0108},{"f":2.10,"v":0.0142},{"f":2.12,"v":0.0130},{"f":2.13,"v":0.0118},{"f":2.15,"v":0.0125},{"f":2.17,"v":0.0112},{"f":2.18,"v":0.0100},{"f":2.20,"v":0.0120},{"f":2.21,"v":0.0108},{"f":2.22,"v":0.0105},{"f":2.23,"v":0.0095},{"f":2.24,"v":0.0112},{"f":2.25,"v":0.0100},{"f":2.06,"v":0.0092},{"f":1.94,"v":0.0105},
{"f":2.80,"v":0.0062},{"f":2.82,"v":0.0036},{"f":2.83,"v":0.0030},{"f":2.85,"v":0.0026},{"f":2.86,"v":0.0016},{"f":2.87,"v":0.0022},{"f":2.88,"v":0.0033},{"f":2.90,"v":0.0028},{"f":2.91,"v":0.0040},{"f":2.92,"v":0.0024},{"f":2.93,"v":0.0031},{"f":2.94,"v":0.0019},{"f":2.95,"v":0.0028},{"f":2.96,"v":0.0035},{"f":2.97,"v":0.0043},{"f":2.98,"v":0.0026},{"f":2.99,"v":0.0047},{"f":3.00,"v":0.0032},{"f":3.01,"v":0.0022},{"f":3.02,"v":0.0038},{"f":3.03,"v":0.0028},{"f":3.04,"v":0.0018},{"f":3.05,"v":0.0034},{"f":3.06,"v":0.0025},{"f":3.07,"v":0.0024},{"f":3.08,"v":0.0030},{"f":3.09,"v":0.0020},{"f":3.10,"v":0.0036},{"f":3.11,"v":0.0044},{"f":3.12,"v":0.0026},{"f":3.13,"v":0.0018},{"f":3.14,"v":0.0022},{"f":3.15,"v":0.0030},{"f":3.16,"v":0.0016},{"f":3.18,"v":0.0024},{"f":3.19,"v":0.0021},{"f":3.20,"v":0.00135},{"f":3.22,"v":0.0019},{"f":3.24,"v":0.0017},{"f":3.26,"v":0.0022},{"f":3.28,"v":0.0016},{"f":3.30,"v":0.0019},{"f":3.32,"v":0.0014},{"f":3.34,"v":0.0017},{"f":3.36,"v":0.0024},{"f":3.38,"v":0.0013},{"f":3.40,"v":0.0016},{"f":3.41,"v":0.0012},{"f":3.43,"v":0.0011},{"f":3.44,"v":0.00125},{"f":3.46,"v":0.0014},{"f":3.48,"v":0.0010},{"f":3.50,"v":0.0012},{"f":3.52,"v":0.00105},{"f":3.53,"v":0.00115},{"f":3.55,"v":0.0013},{"f":3.57,"v":0.0011},{"f":3.58,"v":0.0015},{"f":3.59,"v":0.0016},{"f":3.60,"v":0.00105},{"f":3.61,"v":0.0011},{"f":3.62,"v":0.0013},{"f":3.63,"v":0.0010},{"f":3.05,"v":0.0041},{"f":2.97,"v":0.0020},{"f":3.13,"v":0.0034}
     ]},
     "mark":{"type":"point","filled":true,"opacity":1,"size":70,"shape":"circle"},
     "encoding":{
      "color":{"datum":"3ph","type":"nominal","scale":{"domain":["3ph","4ph"],"range":["#c0161c","#0e557f"]},
       "legend":{"title":null,"orient":"none","legendX":235,"legendY":26,"strokeColor":"#222","padding":4,"symbolSize":90,"symbolOpacity":1,"labelFontSize":18,"labelOffset":18,"rowPadding":0,
        "encode":{"symbols":{"update":{"shape":{"signal":"datum.value === '3ph' ? 'circle' : 'square'"}}}}}}}},
    {"data":{"values":[{"f":0.07,"v":0.0637,"label":"@300 K"}]},
     "mark":{"type":"text","align":"left","baseline":"alphabetic","fontSize":15,"color":"#222"},
     "encoding":{"text":{"field":"label"}}},
    {"data":{"values":[{"f":1.51,"v":0.0486,"label":"LiAgTe"}]},
     "mark":{"type":"text","baseline":"middle","fontSize":23,"fontWeight":"bold","color":"#c0161c"},
     "encoding":{"text":{"field":"label"}}}
     ]},
    {"data":{"values":[
{"f":0.30,"v":0.0225},{"f":0.42,"v":0.020},{"f":0.53,"v":0.0178},{"f":0.57,"v":0.0200},{"f":0.60,"v":0.0215},{"f":0.63,"v":0.0228},{"f":0.66,"v":0.0222},{"f":0.69,"v":0.0238},{"f":0.72,"v":0.0233},{"f":0.75,"v":0.0243},{"f":0.78,"v":0.0238},{"f":0.81,"v":0.0246},{"f":0.84,"v":0.0242},{"f":0.87,"v":0.0245},{"f":0.90,"v":0.0243},{"f":0.93,"v":0.0240},{"f":0.96,"v":0.0242},{"f":0.99,"v":0.0238},{"f":1.02,"v":0.0236},{"f":1.05,"v":0.0232},{"f":1.08,"v":0.0228},{"f":1.11,"v":0.0223},{"f":1.14,"v":0.0217},{"f":1.17,"v":0.0210},{"f":1.20,"v":0.0203},{"f":1.23,"v":0.0196},{"f":1.26,"v":0.0188},{"f":1.29,"v":0.0178},{"f":1.31,"v":0.0168},{"f":1.33,"v":0.0155},{"f":1.37,"v":0.0145},{"f":1.42,"v":0.0138},{"f":1.48,"v":0.0128},{"f":1.54,"v":0.0118},{"f":1.60,"v":0.0112},{"f":1.65,"v":0.0104},{"f":1.68,"v":0.0098},{"f":1.72,"v":0.0096},{"f":1.76,"v":0.0090},{"f":1.80,"v":0.0087},{"f":1.84,"v":0.0084},{"f":1.88,"v":0.0085},{"f":1.91,"v":0.0081},{"f":1.94,"v":0.0083},{"f":1.97,"v":0.0080},{"f":2.00,"v":0.0082},{"f":2.03,"v":0.0079},{"f":2.06,"v":0.0083},{"f":2.09,"v":0.0080},{"f":2.12,"v":0.0078},{"f":2.15,"v":0.0075},{"f":2.18,"v":0.0081},{"f":2.21,"v":0.0084},{"f":2.24,"v":0.0088},{"f":2.25,"v":0.0080},
{"f":2.78,"v":0.0115},{"f":2.81,"v":0.0116},{"f":2.84,"v":0.0117},{"f":2.87,"v":0.0118},{"f":2.90,"v":0.0119},{"f":2.93,"v":0.0119},{"f":2.96,"v":0.0118},{"f":2.99,"v":0.0117},{"f":3.02,"v":0.0115},{"f":3.05,"v":0.0112},{"f":3.08,"v":0.0109},{"f":3.11,"v":0.0105},{"f":3.14,"v":0.0101},{"f":3.17,"v":0.0097},{"f":3.20,"v":0.0093},{"f":3.23,"v":0.0089},{"f":3.26,"v":0.0085},{"f":3.29,"v":0.0082},{"f":3.32,"v":0.0078},{"f":3.35,"v":0.0075},{"f":3.38,"v":0.0072},{"f":3.41,"v":0.0069},{"f":3.44,"v":0.0066},{"f":3.47,"v":0.0064},{"f":3.50,"v":0.0062},{"f":3.53,"v":0.0060},{"f":3.56,"v":0.0058},{"f":3.59,"v":0.0056},{"f":3.62,"v":0.0055},{"f":3.64,"v":0.0053}
     ]},
     "mark":{"type":"point","filled":true,"opacity":1,"size":55,"shape":"square"},
     "encoding":{
      "x":{"field":"f","type":"quantitative","scale":{"domain":[0,4]}},
      "y":{"field":"v","type":"quantitative","scale":{"type":"log","domain":[0.001,0.1]},"axis":{"title":"Weight phase space (ps⁵·rad⁻⁵)","orient":"right","titleAngle":270,"titleBaseline":"top","values":[0.001,0.002,0.003,0.004,0.005,0.006,0.007,0.008,0.009,0.01,0.02,0.03,0.04,0.05,0.06,0.07,0.08,0.09,0.1],"labelExpr":"datum.value == 0.001 ? '10⁻³' : datum.value == 0.01 ? '10⁻²' : datum.value == 0.1 ? '10⁻¹' : ''","labelColor":"#0e557f","tickColor":"#0e557f","domain":true,"domainColor":"#0e557f","domainWidth":1.2,"labelFontSize":18,"titleFontSize":22,"titlePadding":6}},
      "color":{"datum":"4ph","type":"nominal"}}}
   ],
   "resolve":{"scale":{"y":"independent"}}},
   {"data":{"values":[{"f":0}]},
    "mark":{"type":"point","opacity":0},
    "encoding":{"x":{"field":"f","type":"quantitative","axis":{"orient":"top","labels":false,"title":null,"values":[0.5,1,1.5,2,2.5,3,3.5]}}}}
   ],
   "resolve":{"axis":{"x":"independent"}}
  },
  {"width":329,"height":254,
   "title":{"text":"(e)","dx":-67,"dy":-21},
   "layer":[
   {"layer":[
    {"data":{"values":[
{"d":2.87,"p":1.555,"l":"Te","r":"Ag"},{"d":2.87,"p":0.755,"l":"Te","r":"Li"},{"d":4.68,"p":0.505,"l":"Te","r":"Te"},{"d":3.32,"p":0.195,"l":"Li","r":"Ag"},{"d":4.68,"p":0.14,"l":"Ag","r":"Ag"},{"d":4.68,"p":0.09,"l":"Li","r":"Li"},{"d":5.76,"p":0.165,"l":"Li","r":"Ag"},{"d":5.5,"p":0.06,"l":"Te","r":"Ag"},{"d":5.52,"p":0.045,"l":"Te","r":"Li"},{"d":5.76,"p":0.01,"l":"Li","r":"Ag"},{"d":6.63,"p":0.03,"l":"Te","r":"Te"},{"d":7.23,"p":0.085,"l":"Te","r":"Ag"},{"d":7.25,"p":0.065,"l":"Te","r":"Li"},{"d":7.42,"p":0.01,"l":"Li","r":"Ag"},{"d":8.13,"p":0.03,"l":"Te","r":"Te"},{"d":8.62,"p":0.01,"l":"Te","r":"Ag"},{"d":9.38,"p":0.11,"l":"Te","r":"Te"},{"d":9.38,"p":0.02,"l":"Ag","r":"Ag"},{"d":9.38,"p":0.005,"l":"Li","r":"Li"},{"d":9.82,"p":0.005,"l":"Te","r":"Te"},{"d":9.95,"p":0.005,"l":"Li","r":"Li"}
     ]},
     "encoding":{
      "x":{"field":"d","type":"quantitative","scale":{"domain":[1.8,10]},"axis":{"title":"Distance (Å)","values":[2,3,4,5,6,7,8,9,10],"labelExpr":"datum.value % 2 == 0 ? format(datum.value, 'd') : ''","labelFontSize":16,"titleFontSize":23,"titlePadding":12}},
      "y":{"field":"p","type":"quantitative","scale":{"domain":[0,2]},"axis":{"title":"|Φᵢⱼᵅᵝ| (eV·Å⁻²)","values":[0,0.2,0.4,0.6,0.8,1.0,1.2,1.4,1.6,1.8,2.0],"labelExpr":"round(datum.value * 10) % 4 == 0 ? format(datum.value, '.1f') : ''","labelFontSize":16,"titleFontSize":22,"titlePadding":8}}
     },
     "layer":[
      {"mark":{"type":"point","filled":true,"opacity":1,"size":100,"shape":"M0,-1A1,1,0,0,0,0,1Z"},
       "encoding":{"color":{"field":"l","type":"nominal","scale":{"domain":["Ag","Li","Te"],"range":["#f2157f","#4fd94c","#3a5fe5"]},
        "legend":{"title":null,"orient":"none","legendX":250,"legendY":19,"symbolType":"circle","symbolSize":190,"symbolOpacity":1,"labelFontSize":21,"labelOffset":8,"rowPadding":5,
         "encode":{"labels":{"update":{"fill":{"signal":"datum.value === 'Ag' ? '#f2157f' : datum.value === 'Li' ? '#4fd94c' : '#3a5fe5'"}}}}}}}},
      {"mark":{"type":"point","filled":true,"opacity":1,"size":100,"shape":"M0,-1A1,1,0,0,1,0,1Z"},
       "encoding":{"color":{"field":"r","type":"nominal","scale":{"domain":["Ag","Li","Te"],"range":["#f2157f","#4fd94c","#3a5fe5"]},"legend":null}}}
     ]},
    {"data":{"values":[
{"lx":3.54,"ly":1.59,"t1":"Te-","t2":"Ag","c1":"Te","c2":"Ag"},
{"lx":3.54,"ly":0.8,"t1":"Te-","t2":"Li","c1":"Te","c2":"Li"},
{"lx":5.33,"ly":0.555,"t1":"Te-","t2":"Te","c1":"Te","c2":"Te"},
{"lx":2.78,"ly":0.218,"t1":"Li-","t2":"Ag","c1":"Li","c2":"Ag"},
{"lx":5.05,"ly":0.2,"t1":"Ag-","t2":"Ag","c1":"Ag","c2":"Ag"},
{"lx":4.15,"ly":0.044,"t1":"Li-","t2":"Li","c1":"Li","c2":"Li"},
{"lx":6.34,"ly":0.21,"t1":"Li-","t2":"Ag","c1":"Li","c2":"Ag"}
     ]},
     "encoding":{
      "x":{"field":"lx","type":"quantitative","axis":{"title":"Distance (Å)","values":[2,3,4,5,6,7,8,9,10],"labelExpr":"datum.value % 2 == 0 ? format(datum.value, 'd') : ''","labelFontSize":16,"titleFontSize":23,"titlePadding":12}},
      "y":{"field":"ly","type":"quantitative","axis":{"title":"|Φᵢⱼᵅᵝ| (eV·Å⁻²)","values":[0,0.2,0.4,0.6,0.8,1.0,1.2,1.4,1.6,1.8,2.0],"labelExpr":"round(datum.value * 10) % 4 == 0 ? format(datum.value, '.1f') : ''","labelFontSize":16,"titleFontSize":22,"titlePadding":8}}
     },
     "layer":[
      {"mark":{"type":"text","align":"right","baseline":"alphabetic","fontSize":17},
       "encoding":{"text":{"field":"t1"},"color":{"field":"c1","type":"nominal","scale":{"domain":["Ag","Li","Te"],"range":["#f2157f","#4fd94c","#3a5fe5"]},"legend":null}}},
      {"mark":{"type":"text","align":"left","baseline":"alphabetic","fontSize":17},
       "encoding":{"text":{"field":"t2"},"color":{"field":"c2","type":"nominal","scale":{"domain":["Ag","Li","Te"],"range":["#f2157f","#4fd94c","#3a5fe5"]},"legend":null}}}
     ]}
   ]},
   {"data":{"values":[{"d":2,"p":0}]},
    "mark":{"type":"point","opacity":0},
    "encoding":{"x":{"field":"d","type":"quantitative","axis":{"orient":"top","labels":false,"title":null,"values":[2,3,4,5,6,7,8,9]}},
     "y":{"field":"p","type":"quantitative","axis":{"orient":"right","labels":false,"title":null,"values":[0.2,0.4,0.6,0.8,1.0,1.2,1.4,1.6,1.8]}}}}
   ],
   "resolve":{"axis":{"x":"independent","y":"independent"}}
  }
 ],"spacing":27,"resolve":{"scale":{"color":"independent","shape":"independent","strokeDash":"independent","size":"independent"}}}
],"spacing":20,"resolve":{"scale":{"color":"independent","shape":"independent","strokeDash":"independent","size":"independent"}}}
]
}
